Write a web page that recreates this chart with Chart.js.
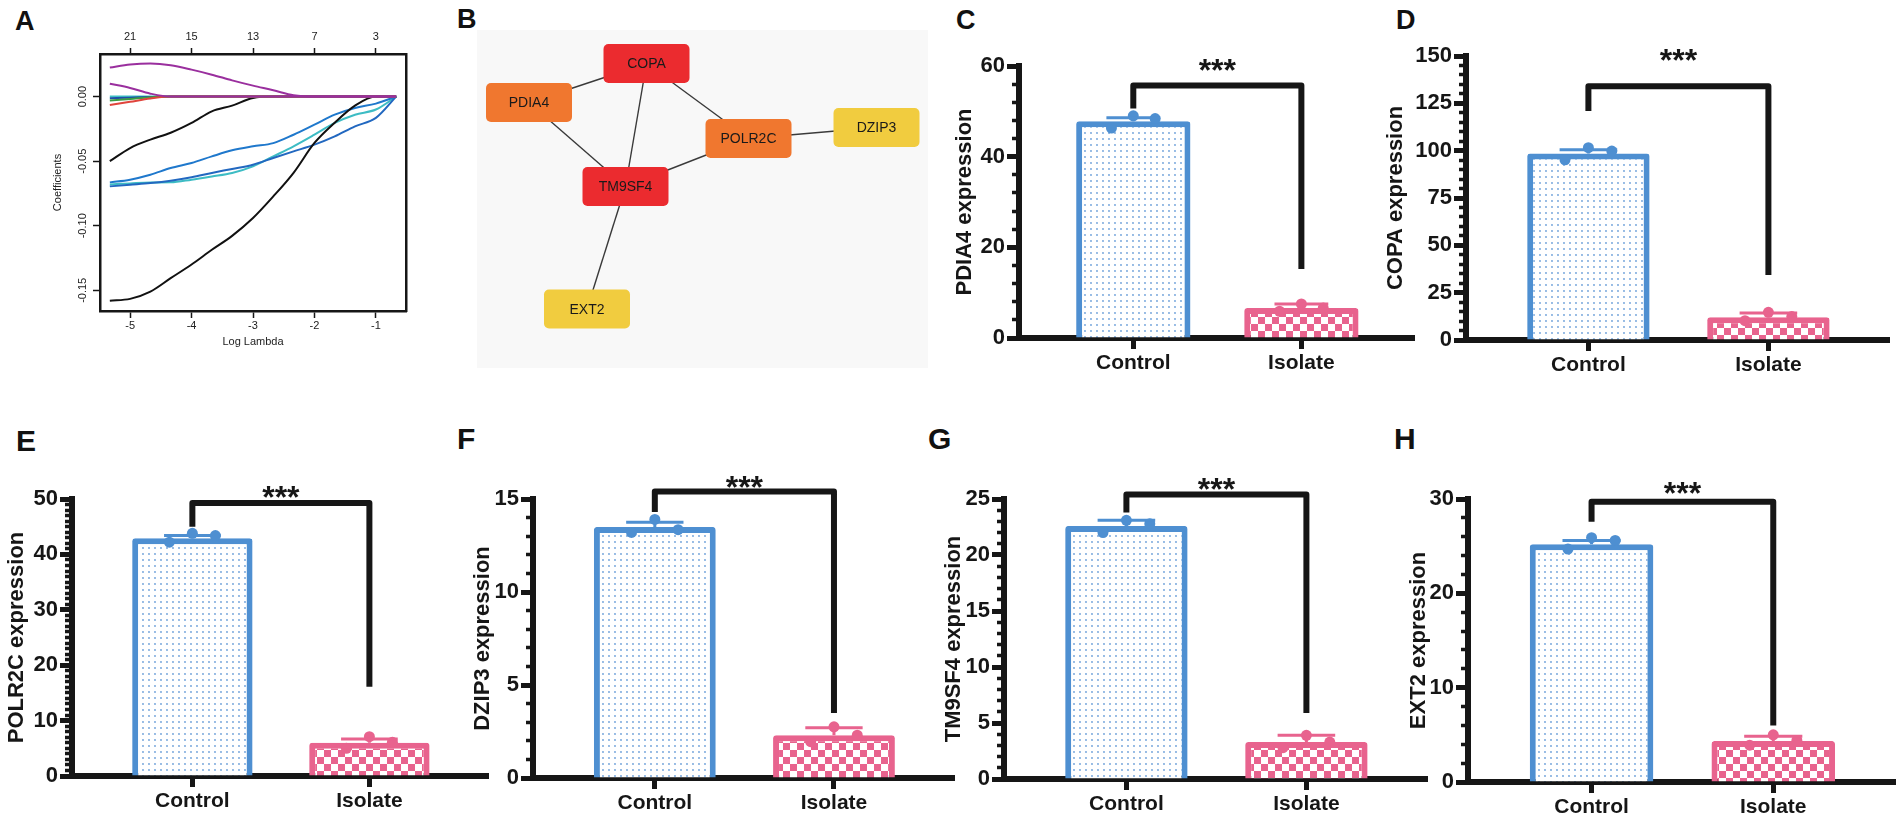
<!DOCTYPE html>
<html>
<head>
<meta charset="utf-8">
<script src="https://cdn.jsdelivr.net/npm/chart.js@4.4.1/dist/chart.umd.min.js"></script>
<style>
  html, body { margin: 0; padding: 0; background: #fff; }
  body { width: 1902px; height: 823px; position: relative; overflow: hidden; font-family: 'Liberation Sans', Arial, sans-serif; }
  canvas { position: absolute; }
  .tag { position: absolute; font-weight: bold; line-height: 1; color: #111; }
</style>
</head>
<body>
<div class="tag" style="left:15px;top:8px;font-size:27px">A</div>
<div class="tag" style="left:457px;top:6px;font-size:27px">B</div>
<div class="tag" style="left:956px;top:7px;font-size:27px">C</div>
<div class="tag" style="left:1396px;top:7px;font-size:27px">D</div>
<div class="tag" style="left:16px;top:426px;font-size:30px">E</div>
<div class="tag" style="left:457px;top:424px;font-size:30px">F</div>
<div class="tag" style="left:928px;top:424px;font-size:30px">G</div>
<div class="tag" style="left:1394px;top:424px;font-size:30px">H</div>

<script>
// === DATA ===

// Panel A: LASSO coefficient paths
const logLambda = [-5.33, -5.0, -4.67, -4.34, -4.0, -3.67, -3.34, -3.0, -2.67, -2.34, -2.0, -1.67, -1.34, -1.0, -0.67];
const lambdaTicks = [-5, -4, -3, -2, -1];
const nonzeroCounts = ['21', '15', '13', '7', '3'];
const coefTicks = [0, -0.05, -0.10, -0.15];
const pathPurpleA = [0.0225, 0.0248, 0.0256, 0.0243, 0.0209, 0.017, 0.0126, 0.0085, 0.0049, 0.001, 0, 0, 0, 0, 0];
const pathPurpleB = [0.010, 0.0067, 0.0023, 0, 0, 0, 0, 0, 0, 0, 0, 0, 0, 0, 0];
const pathRed = [-0.0065, -0.004, -0.0015, 0, 0, 0, 0, 0, 0, 0, 0, 0, 0, 0, 0];
const pathGreen = [-0.003, -0.0018, -0.0005, 0, 0, 0, 0, 0, 0, 0, 0, 0, 0, 0, 0];
const pathNavy = [-0.0012, -0.0008, -0.0003, 0, 0, 0, 0, 0, 0, 0, 0, 0, 0, 0, 0];
const pathTeal = [0, 0, 0, 0, 0, 0, 0, 0, 0, 0, 0, 0, 0, 0, 0];
const pathBlackA = [-0.050, -0.0398, -0.0333, -0.028, -0.0204, -0.0114, -0.007, -0.001, 0, 0, 0, 0, 0, 0, 0];
const pathBlackB = [-0.158, -0.1566, -0.151, -0.1406, -0.130, -0.1186, -0.1078, -0.094, -0.0773, -0.059, -0.0359, -0.0202, -0.007, 0, 0];
const pathBlueA = [-0.0664, -0.0643, -0.0605, -0.0553, -0.0514, -0.0463, -0.0416, -0.0385, -0.036, -0.0295, -0.0217, -0.014, -0.0088, -0.0054, 0];
const pathBlueB = [-0.0695, -0.0682, -0.0669, -0.0651, -0.0625, -0.0591, -0.056, -0.0527, -0.0475, -0.0424, -0.0372, -0.0308, -0.023, -0.0165, 0];
const pathCyan = [-0.068, -0.0672, -0.0665, -0.0664, -0.0643, -0.0618, -0.0591, -0.054, -0.0463, -0.0385, -0.0295, -0.0204, -0.014, -0.010, 0];

// Panel B: interaction network
const nodeNames = ['COPA', 'PDIA4', 'TM9SF4', 'POLR2C', 'DZIP3', 'EXT2'];
const nodeX = [169.5, 52, 148.5, 271.5, 399.5, 110];
const nodeY = [33.5, 72.5, 156.5, 108.5, 97.5, 279];
const nodeRank = ['high', 'mid', 'high', 'mid', 'low', 'low'];
const edgeFrom = [0, 0, 0, 1, 2, 3, 2];
const edgeTo = [1, 2, 3, 2, 3, 4, 5];

// Panels C-H: expression bars
const genes = ['PDIA4', 'COPA', 'POLR2C', 'DZIP3', 'TM9SF4', 'EXT2'];
const groups = ['Control', 'Isolate'];
const controlMean = [47.8, 98.5, 42.9, 13.5, 22.6, 25.2];
const controlErr = [0.8, 2.0, 0.5, 0.25, 0.5, 0.4];
const controlPts = [[46.3, 49.0, 48.4], [95.2, 101.6, 99.8], [42.2, 43.8, 43.4], [13.2, 13.9, 13.35], [22.0, 23.1, 22.8], [24.7, 25.9, 25.6]];
const isolateMean = [6.6, 12.0, 6.0, 2.3, 3.3, 4.35];
const isolateErr = [0.9, 2.2, 0.7, 0.4, 0.6, 0.5];
const isolatePts = [[5.9, 7.5, 6.6], [10.2, 14.6, 12.4], [5.0, 7.1, 6.1], [1.95, 2.75, 2.3], [2.8, 3.9, 3.3], [3.9, 5.0, 4.4]];
const pointOffset = [-0.13, 0, 0.13];
const yMax = [60, 150, 50, 15, 25, 30];
const yMajor = [20, 25, 10, 5, 5, 10];
const yMinor = [4, 5, 1, 1, 1, 2];
const bracketLeft = [50.6, 121, 45, 14.3, 23.8, 27.6];
const bracketTop = [55.7, 134, 49.3, 15.4, 25.4, 29.7];
const bracketRight = [15.2, 34.3, 16.1, 3.5, 5.9, 6.0];
const starLevel = [60.6, 151.4, 51.6, 16.0, 26.5, 31.3];

// === STYLE / LAYOUT ===

const INK = '#161616';
const BLUE = '#4e8fd1';
const PINK = '#e8638e';
const NODE_COLORS = { high: '#eb2b2f', mid: '#f0772f', low: '#f1cc3f' };
const PATH_COLORS = {
  purpleA: '#9a2f9e', purpleB: '#9a2f9e', red: '#e0443c', green: '#3b9b43', navy: '#1f4fa8',
  teal: '#3ec1c3', blackA: '#111111', blackB: '#111111', blueA: '#1f78cc', blueB: '#2268c0', cyan: '#3dbcc4',
};

// pixel frame of each bar panel: spine x, y of top tick, y of zero, right end of x axis, y-title x
const panelFrame = [
  { spine: 1019, top: 66, zero: 337.5, end: 1414, titleX: 965 },
  { spine: 1466, top: 56, zero: 340, end: 1889, titleX: 1396 },
  { spine: 72, top: 499, zero: 776, end: 488, titleX: 17 },
  { spine: 533, top: 499, zero: 778, end: 954, titleX: 483 },
  { spine: 1004, top: 499, zero: 779, end: 1427, titleX: 954 },
  { spine: 1468, top: 499, zero: 782, end: 1895, titleX: 1419 },
];

Chart.defaults.font.family = "'Liberation Sans', Arial, sans-serif";
Chart.defaults.color = INK;

function addCanvas(left, top, w, h) {
  const c = document.createElement('canvas');
  c.width = w;
  c.height = h;
  c.style.left = left + 'px';
  c.style.top = top + 'px';
  c.style.width = w + 'px';
  c.style.height = h + 'px';
  document.body.appendChild(c);
  return c;
}

function dotFill() {
  const c = document.createElement('canvas');
  c.width = 6; c.height = 6;
  const g = c.getContext('2d');
  g.fillStyle = '#ffffff';
  g.fillRect(0, 0, 6, 6);
  g.fillStyle = '#6a9ed8';
  g.beginPath();
  g.arc(3, 3, 0.9, 0, Math.PI * 2);
  g.fill();
  return g.createPattern(c, 'repeat');
}

function checkFill() {
  const c = document.createElement('canvas');
  c.width = 14; c.height = 14;
  const g = c.getContext('2d');
  g.fillStyle = PINK;
  g.fillRect(0, 0, 14, 14);
  g.fillStyle = '#ffffff';
  g.fillRect(0, 0, 7, 7);
  g.fillRect(7, 7, 7, 7);
  return g.createPattern(c, 'repeat');
}

const baseOptions = {
  responsive: false,
  animation: false,
  devicePixelRatio: 1,
  plugins: { legend: { display: false }, tooltip: { enabled: false } },
};

// === PANEL A ===

const rotatedCoefLabels = {
  id: 'rotatedCoefLabels',
  afterDraw(chart) {
    const { ctx, scales: { y } } = chart;
    ctx.save();
    ctx.fillStyle = '#222';
    ctx.font = "11px 'Liberation Sans', Arial, sans-serif";
    ctx.textAlign = 'center';
    ctx.textBaseline = 'middle';
    coefTicks.forEach(v => {
      ctx.save();
      ctx.translate(83, y.getPixelForValue(v));
      ctx.rotate(-Math.PI / 2);
      ctx.fillText(v.toFixed(2), 0, 0);
      ctx.restore();
    });
    ctx.restore();
  }
};

function createLassoChart() {
  const canvas = addCanvas(0, 0, 420, 360);
  const paths = [
    ['purpleA', pathPurpleA], ['purpleB', pathPurpleB], ['red', pathRed], ['green', pathGreen],
    ['navy', pathNavy], ['teal', pathTeal], ['blackA', pathBlackA], ['blackB', pathBlackB],
    ['blueA', pathBlueA], ['blueB', pathBlueB], ['cyan', pathCyan],
  ];
  const datasets = paths.map(([key, vals]) => ({
    label: key,
    data: logLambda.map((l, k) => ({ x: l, y: vals[k] })),
    borderColor: PATH_COLORS[key],
    borderWidth: 2,
    pointRadius: 0,
    cubicInterpolationMode: 'monotone',
    fill: false,
  }));
  const smallFont = { size: 11 };
  const tickAt = s => { s.ticks = lambdaTicks.map(v => ({ value: v })); };

  new Chart(canvas, {
    type: 'line',
    data: { datasets },
    options: {
      ...baseOptions,
      layout: { padding: 0 },
      scales: {
        x: {
          type: 'linear', position: 'bottom', min: -5.49, max: -0.51,
          afterBuildTicks: tickAt,
          afterFit: s => { s.height = 49; },
          border: { width: 2.5, color: INK },
          grid: { drawOnChartArea: false, tickLength: 7, tickWidth: 1.5, tickColor: INK },
          ticks: { font: smallFont, color: '#222', padding: 1, maxRotation: 0, callback: v => String(v) },
          title: { display: true, text: 'Log Lambda', font: smallFont, color: '#222', padding: { top: 0, bottom: 11 } },
        },
        xTop: {
          type: 'linear', position: 'top', min: -5.49, max: -0.51,
          afterBuildTicks: tickAt,
          afterFit: s => { s.height = 54; },
          border: { width: 2.5, color: INK },
          grid: { drawOnChartArea: false, tickLength: 6, tickWidth: 1.5, tickColor: INK },
          ticks: { font: smallFont, color: '#222', padding: 4, maxRotation: 0, callback: (v, i) => nonzeroCounts[i] },
        },
        y: {
          type: 'linear', position: 'left', min: -0.166, max: 0.033,
          afterBuildTicks: s => { s.ticks = coefTicks.map(v => ({ value: v })); },
          afterFit: s => { s.width = 100; },
          border: { width: 2.5, color: INK },
          grid: { drawOnChartArea: false, tickLength: 7, tickWidth: 1.5, tickColor: INK },
          ticks: { display: false },
          title: { display: true, text: 'Coefficients', font: smallFont, color: '#222', padding: { top: 51, bottom: 0 } },
        },
        yRight: {
          type: 'linear', position: 'right', min: 0, max: 1,
          afterFit: s => { s.width = 14; },
          border: { width: 2.5, color: INK },
          grid: { display: false, drawTicks: false },
          ticks: { display: false },
        },
      },
    },
    plugins: [rotatedCoefLabels],
  });
}

// === PANEL B ===

const networkNodes = {
  id: 'networkNodes',
  beforeDraw(chart) {
    const { ctx, width, height } = chart;
    ctx.save();
    ctx.fillStyle = '#f8f8f8';
    ctx.fillRect(0, 0, width, height);
    ctx.restore();
  },
  afterDatasetsDraw(chart) {
    const { ctx, scales: { x, y } } = chart;
    ctx.save();
    nodeNames.forEach((name, k) => {
      const cx = x.getPixelForValue(nodeX[k]);
      const cy = y.getPixelForValue(nodeY[k]);
      ctx.fillStyle = NODE_COLORS[nodeRank[k]];
      ctx.beginPath();
      ctx.roundRect(cx - 43, cy - 19.5, 86, 39, 5);
      ctx.fill();
      ctx.fillStyle = '#1a1a1a';
      ctx.font = "14px 'Liberation Sans', Arial, sans-serif";
      ctx.textAlign = 'center';
      ctx.textBaseline = 'middle';
      ctx.fillText(name, cx, cy + 1);
    });
    ctx.restore();
  }
};

function createNetworkChart() {
  const canvas = addCanvas(477, 30, 451, 338);
  const datasets = edgeFrom.map((a, k) => ({
    type: 'line',
    data: [{ x: nodeX[a], y: nodeY[a] }, { x: nodeX[edgeTo[k]], y: nodeY[edgeTo[k]] }],
    borderColor: '#3a3a3a',
    borderWidth: 1.4,
    pointRadius: 0,
  }));
  new Chart(canvas, {
    type: 'line',
    data: { datasets },
    options: {
      ...baseOptions,
      layout: { padding: 0 },
      scales: {
        x: { type: 'linear', min: 0, max: 451, display: false },
        y: { type: 'linear', min: 0, max: 338, reverse: true, display: false },
      },
    },
    plugins: [networkNodes],
  });
}

// === PANELS C-H ===

const barExtras = {
  id: 'barExtras',
  afterDatasetsDraw(chart, args, opts) {
    const { ctx, scales: { x, y } } = chart;
    const i = opts.panel;
    const bars = [[0, controlMean[i], controlErr[i], BLUE], [1, isolateMean[i], isolateErr[i], PINK]];
    ctx.save();
    bars.forEach(([g, m, e, col]) => {
      const px = x.getPixelForValue(g);
      const half = x.getPixelForValue(g + 0.16) - px;
      const y0 = y.getPixelForValue(m);
      const y1 = y.getPixelForValue(m + e);
      ctx.strokeStyle = col;
      ctx.lineWidth = 3;
      ctx.beginPath();
      ctx.moveTo(px, y0); ctx.lineTo(px, y1);
      ctx.moveTo(px - half, y1); ctx.lineTo(px + half, y1);
      ctx.stroke();
    });
    ctx.restore();
  },
  afterDraw(chart, args, opts) {
    const { ctx, scales: { x, y } } = chart;
    const i = opts.panel;
    const xl = x.getPixelForValue(0);
    const xr = x.getPixelForValue(1);
    ctx.save();
    ctx.strokeStyle = INK;
    ctx.lineWidth = 6;
    ctx.lineJoin = 'round';
    ctx.beginPath();
    ctx.moveTo(xl, y.getPixelForValue(bracketLeft[i]));
    ctx.lineTo(xl, y.getPixelForValue(bracketTop[i]));
    ctx.lineTo(xr, y.getPixelForValue(bracketTop[i]));
    ctx.lineTo(xr, y.getPixelForValue(bracketRight[i]));
    ctx.stroke();
    const fs = 32;
    ctx.fillStyle = INK;
    ctx.font = `bold ${fs}px 'Liberation Sans', Arial, sans-serif`;
    ctx.textAlign = 'center';
    ctx.textBaseline = 'alphabetic';
    ctx.fillText('***', (xl + xr) / 2, y.getPixelForValue(starLevel[i]) + 0.55 * fs);
    ctx.restore();
  }
};

function createExpressionChart(i, dots, checks) {
  const f = panelFrame[i];
  const left = Math.round(f.titleX - 15);
  const top = Math.round(f.top - 50);
  const padTop = f.top - top;
  const xH = 46;
  const W = Math.round(f.end - left + 6);
  const H = Math.round(f.zero - top + xH);
  const canvas = addCanvas(left, top, W, H);
  const isMajor = v => Math.abs(v / yMajor[i] - Math.round(v / yMajor[i])) < 1e-6;
  const boldFont = size => ({ size, weight: 'bold' });

  new Chart(canvas, {
    type: 'bar',
    data: {
      datasets: [
        {
          type: 'bar',
          data: [{ x: 0, y: controlMean[i] }, { x: 1, y: isolateMean[i] }],
          backgroundColor: [dots, checks],
          borderColor: [BLUE, PINK],
          borderWidth: 6,
          borderSkipped: 'start',
          borderRadius: 3,
          barPercentage: 0.68,
          categoryPercentage: 1,
          order: 2,
        },
        {
          type: 'scatter',
          data: controlPts[i].map((v, k) => ({ x: pointOffset[k], y: v })),
          backgroundColor: BLUE, borderWidth: 0, pointRadius: 5.5, clip: false, order: 1,
        },
        {
          type: 'scatter',
          data: isolatePts[i].map((v, k) => ({ x: 1 + pointOffset[k], y: v })),
          backgroundColor: PINK, borderWidth: 0, pointRadius: 5.5, clip: false, order: 1,
        },
      ],
    },
    options: {
      ...baseOptions,
      layout: { padding: { top: padTop, right: 6, bottom: 0, left: 0 } },
      plugins: { ...baseOptions.plugins, barExtras: { panel: i } },
      scales: {
        x: {
          type: 'linear', min: -0.68, max: 1.67, offset: false,
          afterBuildTicks: s => { s.ticks = groups.map((g, k) => ({ value: k })); },
          afterFit: s => { s.height = xH; },
          border: { width: 6, color: INK },
          grid: { offset: false, drawOnChartArea: false, tickLength: 11, tickWidth: 5, tickColor: INK },
          ticks: { padding: 2, autoSkip: false, maxRotation: 0, font: boldFont(21), color: INK, callback: v => groups[v] ?? '' },
        },
        y: {
          type: 'linear', min: 0, max: yMax[i],
          afterBuildTicks: s => {
            const t = [];
            for (let v = 0; v <= yMax[i] + 1e-9; v += yMinor[i]) t.push({ value: +v.toFixed(6) });
            s.ticks = t;
          },
          afterFit: s => { s.width = f.spine - left; },
          border: { width: 6, color: INK },
          grid: {
            drawOnChartArea: false, tickLength: 12, tickColor: INK,
            tickWidth: c => (c.tick && isMajor(c.tick.value) ? 5 : 3.5),
            tickBorderDash: c => (c.tick && isMajor(c.tick.value) ? [] : [0, 5, 100]),
          },
          ticks: { padding: 2, autoSkip: false, font: boldFont(22), color: INK, callback: v => (isMajor(v) ? String(v) : '') },
          title: { display: true, text: genes[i] + ' expression', font: boldFont(22), color: INK, padding: { top: f.titleX - left - 13.2, bottom: 0 } },
        },
      },
    },
    plugins: [barExtras],
  });
}

// === RENDER ===

createLassoChart();
createNetworkChart();
const dots = dotFill();
const checks = checkFill();
genes.forEach((g, i) => createExpressionChart(i, dots, checks));
</script>
</body>
</html>
